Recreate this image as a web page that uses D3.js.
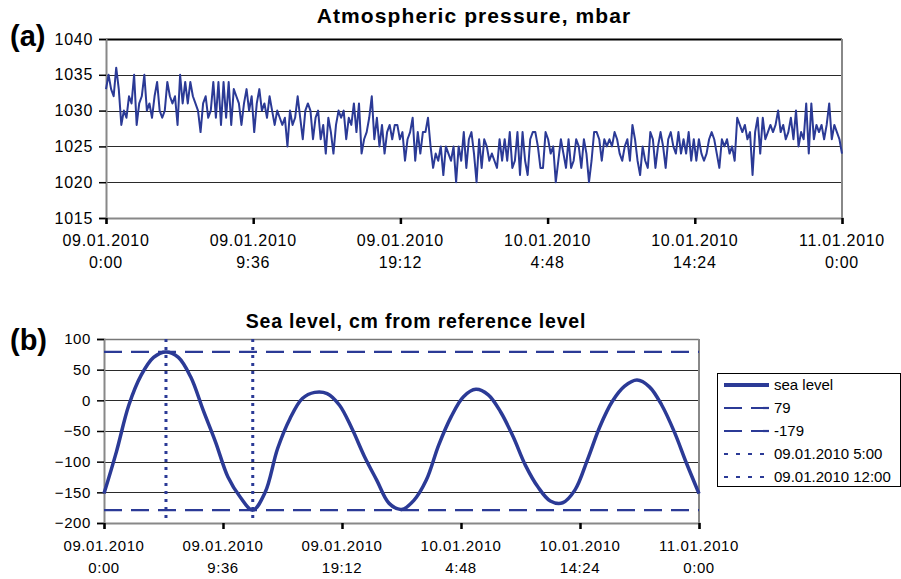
<!DOCTYPE html>
<html>
<head>
<meta charset="utf-8">
<script src="https://cdn.jsdelivr.net/npm/d3@7"></script>
<style>
  html, body { margin: 0; padding: 0; background: #fff; }
  svg { display: block; font-family: "Liberation Sans", Arial, sans-serif; }
</style>
</head>
<body>
<svg id="chart" width="901" height="579"></svg>
<script>
// ---------------- DATA ----------------
// Atmospheric pressure, mbar, 10-minute samples from 09.01.2010 0:00 to 11.01.2010 0:00
const pressure = [
  1033,1035,1033,1032,1036,1033,1028,1030,1029,1032,
  1031,1035,1028,1031,1032,1035,1030,1031,1029,1032,
  1034,1030,1029,1030,1034,1032,1031,1032,1028,1035,
  1031,1034,1031,1034,1032,1031,1030,1027,1031,1032,
  1029,1030,1034,1029,1034,1028,1034,1029,1034,1028,
  1033,1032,1031,1028,1031,1033,1030,1032,1027,1031,
  1033,1030,1031,1029,1032,1030,1028,1030,1029,1028,
  1029,1025,
  1030,1028,1029,1032,1029,1026,1030,1031,1030,1026,
  1029,1030,1026,1028,1024,1029,1027,1024,1028,1030,
  1029,1030,1026,1029,1028,1031,1027,1031,1024,1026,
  1027,1029,1032,1026,1029,1025,1028,1024,1027,1028,
  1026,1028,1028,1026,1027,1023,1026,1027,1029,1023,
  1027,1024,1027,1027,1029,1025,1022,1024,1023,1025,
  1021,1025,1024,1023,1025,1020,1025,1023,1027,1022,
  1026,1027,
  1024,1020,1026,1022,1026,1025,1023,1024,1023,1022,
  1026,1023,1026,1023,1027,1022,1023,1027,1021,1027,
  1023,1021,1026,1027,1027,1025,1022,1022,1027,1026,
  1024,1025,1020,1023,1026,1024,1022,1026,1022,1023,
  1026,1025,1022,1026,1024,1020,1023,1027,1027,1026,
  1023,1026,1025,1026,1025,1027,1026,1024,1023,1025,
  1026,1023,1028,1026,1023,1021,1025,1023,1022,1027,
  1026,1022,
  1025,1027,1025,1022,1026,1027,1025,1024,1027,1024,
  1026,1024,1027,1023,1026,1023,1026,1024,1023,1024,
  1026,1027,1026,1024,1022,1026,1025,1026,1024,1025,
  1023,1029,1028,1027,1028,1026,1027,1021,1027,1029,
  1024,1029,1026,1027,1028,1027,1028,1030,1027,1028,
  1026,1027,1029,1026,1030,1025,1027,1026,1031,1024,
  1031,1026,1028,1027,1028,1026,1028,1031,1026,1028,
  1027,1026,1024
];
const pressureStepMinutes = 10;

// Sea level, cm from reference level, hourly from 09.01.2010 0:00 to 11.01.2010 0:00
const seaLevel = [
  -152,-84,-8,41,70,79,70,38,-16,-68,
  -125,-158,-179,-150,-79,-30,3,13,11,-8,
  -46,-91,-130,-168,-178,-163,-130,-73,-27,6,
  18,9,-19,-59,-106,-141,-164,-167,-146,-97,
  -43,-2,23,33,22,-8,-51,-103,-152
];
const seaStepHours = 1;

const refLevels = [79, -179];          // horizontal dashed lines
const refTimesHours = [5, 12];         // 09.01.2010 5:00 and 12:00

const pressureTicks = [1015, 1020, 1025, 1030, 1035, 1040];
const seaTicks = [-200, -150, -100, -50, 0, 50, 100];
const xTickHours = [0, 9.6, 19.2, 28.8, 38.4, 48];
const xTickDates = ["09.01.2010", "09.01.2010", "09.01.2010", "10.01.2010", "10.01.2010", "11.01.2010"];
const xTickTimes = ["0:00", "9:36", "19:12", "4:48", "14:24", "0:00"];

const legendLabels = ["sea level", "79", "-179", "09.01.2010 5:00", "09.01.2010 12:00"];
const legendKinds = ["solid", "dash", "dash", "dot", "dot"];

const titleA = "Atmospheric pressure, mbar";
const titleB = "Sea level, cm from reference level";

// ---------------- STYLE ----------------
const BLUE = "#2b3a96";
const svg = d3.select("#chart");

function drawPanel(opts) {
  const g = svg.append("g");
  const x = d3.scaleLinear().domain([0, 48]).range([opts.left, opts.right]);
  const y = d3.scaleLinear().domain(opts.yDomain).range([opts.bottom, opts.top]);

  // gridlines
  g.append("g").selectAll("line")
    .data(opts.yTicks.filter(v => v !== opts.yDomain[0]))
    .join("line")
    .attr("x1", opts.left).attr("x2", opts.right)
    .attr("y1", d => Math.round(y(d)) + 0.5).attr("y2", d => Math.round(y(d)) + 0.5)
    .attr("stroke", d => d === opts.yDomain[1] ? opts.topColor : "#2a2a2a")
    .attr("stroke-width", d => d === opts.yDomain[1] ? opts.topWidth : 1.2);

  // right border
  g.append("line")
    .attr("x1", opts.right).attr("x2", opts.right)
    .attr("y1", opts.top).attr("y2", opts.bottom)
    .attr("stroke", "#888").attr("stroke-width", 2);

  // y axis
  const yAxis = d3.axisLeft(y).tickValues(opts.yTicks).tickSize(7).tickPadding(6).tickFormat(d3.format("d"));
  const ya = g.append("g").attr("transform", `translate(${opts.left},0)`).call(yAxis);
  ya.select(".domain").attr("stroke", "#888").attr("stroke-width", 2);
  ya.selectAll(".tick line").attr("stroke", "#000").attr("stroke-width", 1.5);
  ya.selectAll(".tick text").attr("fill", "#000").style("font-size", opts.fontSize + "px")
    .style("font-family", '"Liberation Sans", Arial, sans-serif').style("letter-spacing", opts.ls + "px");

  // x axis
  const xAxis = d3.axisBottom(x).tickValues(xTickHours).tickSize(6).tickFormat("");
  const xa = g.append("g").attr("transform", `translate(0,${opts.bottom})`).call(xAxis);
  xa.select(".domain").attr("stroke", "#888").attr("stroke-width", 2);
  xa.selectAll(".tick line").attr("stroke", "#000").attr("stroke-width", 2.5);

  const lab = g.append("g").selectAll("text").data(xTickHours).join("text")
    .attr("x", d => x(d)).attr("text-anchor", "middle")
    .style("font-size", opts.fontSize + "px").style("letter-spacing", opts.ls + "px").attr("fill", "#000");
  lab.append("tspan").attr("x", d => x(d)).attr("y", opts.bottom + opts.lab1).text((d, i) => xTickDates[i]);
  lab.append("tspan").attr("x", d => x(d)).attr("y", opts.bottom + opts.lab2).text((d, i) => xTickTimes[i]);

  // title
  g.append("text").attr("x", opts.titleX).attr("y", opts.titleY).attr("text-anchor", "middle")
    .style("font-size", opts.titleSize + "px").style("font-weight", "bold")
    .style("letter-spacing", opts.titleLs + "px").attr("fill", "#000").text(opts.title);

  // panel letter
  g.append("text").attr("x", 10).attr("y", opts.letterY)
    .style("font-size", "29px").style("font-weight", "bold").attr("fill", "#000").text(opts.letter);

  return { g, x, y };
}

// ---------- Panel (a) ----------
const A = drawPanel({
  left: 106, right: 842, top: 39, bottom: 218,
  yDomain: [1015, 1040], yTicks: pressureTicks,
  topColor: "#000", topWidth: 2.2,
  fontSize: 16, ls: 0.7, lab1: 28, lab2: 50,
  title: titleA, titleX: 474, titleY: 23, titleSize: 21, titleLs: 1.1,
  letter: "(a)", letterY: 46
});

const pLine = d3.line()
  .x((d, i) => A.x(i * pressureStepMinutes / 60))
  .y(d => A.y(d));
A.g.append("path").datum(pressure)
  .attr("d", pLine).attr("fill", "none")
  .attr("stroke", BLUE).attr("stroke-width", 2).attr("stroke-linejoin", "round");

// ---------- Panel (b) ----------
const B = drawPanel({
  left: 104, right: 699, top: 339, bottom: 523,
  yDomain: [-200, 100], yTicks: seaTicks,
  topColor: "#777", topWidth: 1.5,
  fontSize: 15, ls: 0.6, lab1: 28, lab2: 50,
  title: titleB, titleX: 416, titleY: 328, titleSize: 19.5, titleLs: 0.8,
  letter: "(b)", letterY: 350
});

// horizontal reference levels
B.g.append("g").selectAll("line").data(refLevels).join("line")
  .attr("x1", B.x(0)).attr("x2", B.x(48))
  .attr("y1", d => B.y(d)).attr("y2", d => B.y(d))
  .attr("stroke", BLUE).attr("stroke-width", 2.2).attr("stroke-dasharray", "18,9");

// vertical time markers
B.g.append("g").selectAll("line").data(refTimesHours).join("line")
  .attr("x1", d => B.x(d)).attr("x2", d => B.x(d))
  .attr("y1", B.y(100)).attr("y2", B.y(-200))
  .attr("stroke", BLUE).attr("stroke-width", 3).attr("stroke-dasharray", "3,5");

const sLine = d3.line()
  .x((d, i) => B.x(i * seaStepHours))
  .y(d => B.y(d))
  .curve(d3.curveCatmullRom.alpha(0.5));
B.g.append("path").datum(seaLevel)
  .attr("d", sLine).attr("fill", "none")
  .attr("stroke", BLUE).attr("stroke-width", 3.5).attr("stroke-linejoin", "round");

// ---------- Legend ----------
const lg = svg.append("g");
lg.append("rect").attr("x", 717.5).attr("y", 373.5).attr("width", 183).attr("height", 113)
  .attr("fill", "#fff").attr("stroke", "#000").attr("stroke-width", 1);
const legRows = [385, 408, 431, 454, 477];
legendLabels.forEach((lbl, i) => {
  const yy = legRows[i];
  const ln = lg.append("line").attr("x1", 724).attr("x2", 769).attr("y1", yy).attr("y2", yy)
    .attr("stroke", BLUE);
  if (legendKinds[i] === "solid") ln.attr("stroke-width", 4);
  else if (legendKinds[i] === "dash") ln.attr("stroke-width", 2.2).attr("stroke-dasharray", "18,9");
  else ln.attr("stroke-width", 2.2).attr("stroke-dasharray", "4,8");
  lg.append("text").attr("x", 774).attr("y", yy).attr("dy", "0.36em")
    .style("font-size", "15px").attr("fill", "#000").text(lbl);
});
</script>
</body>
</html>
